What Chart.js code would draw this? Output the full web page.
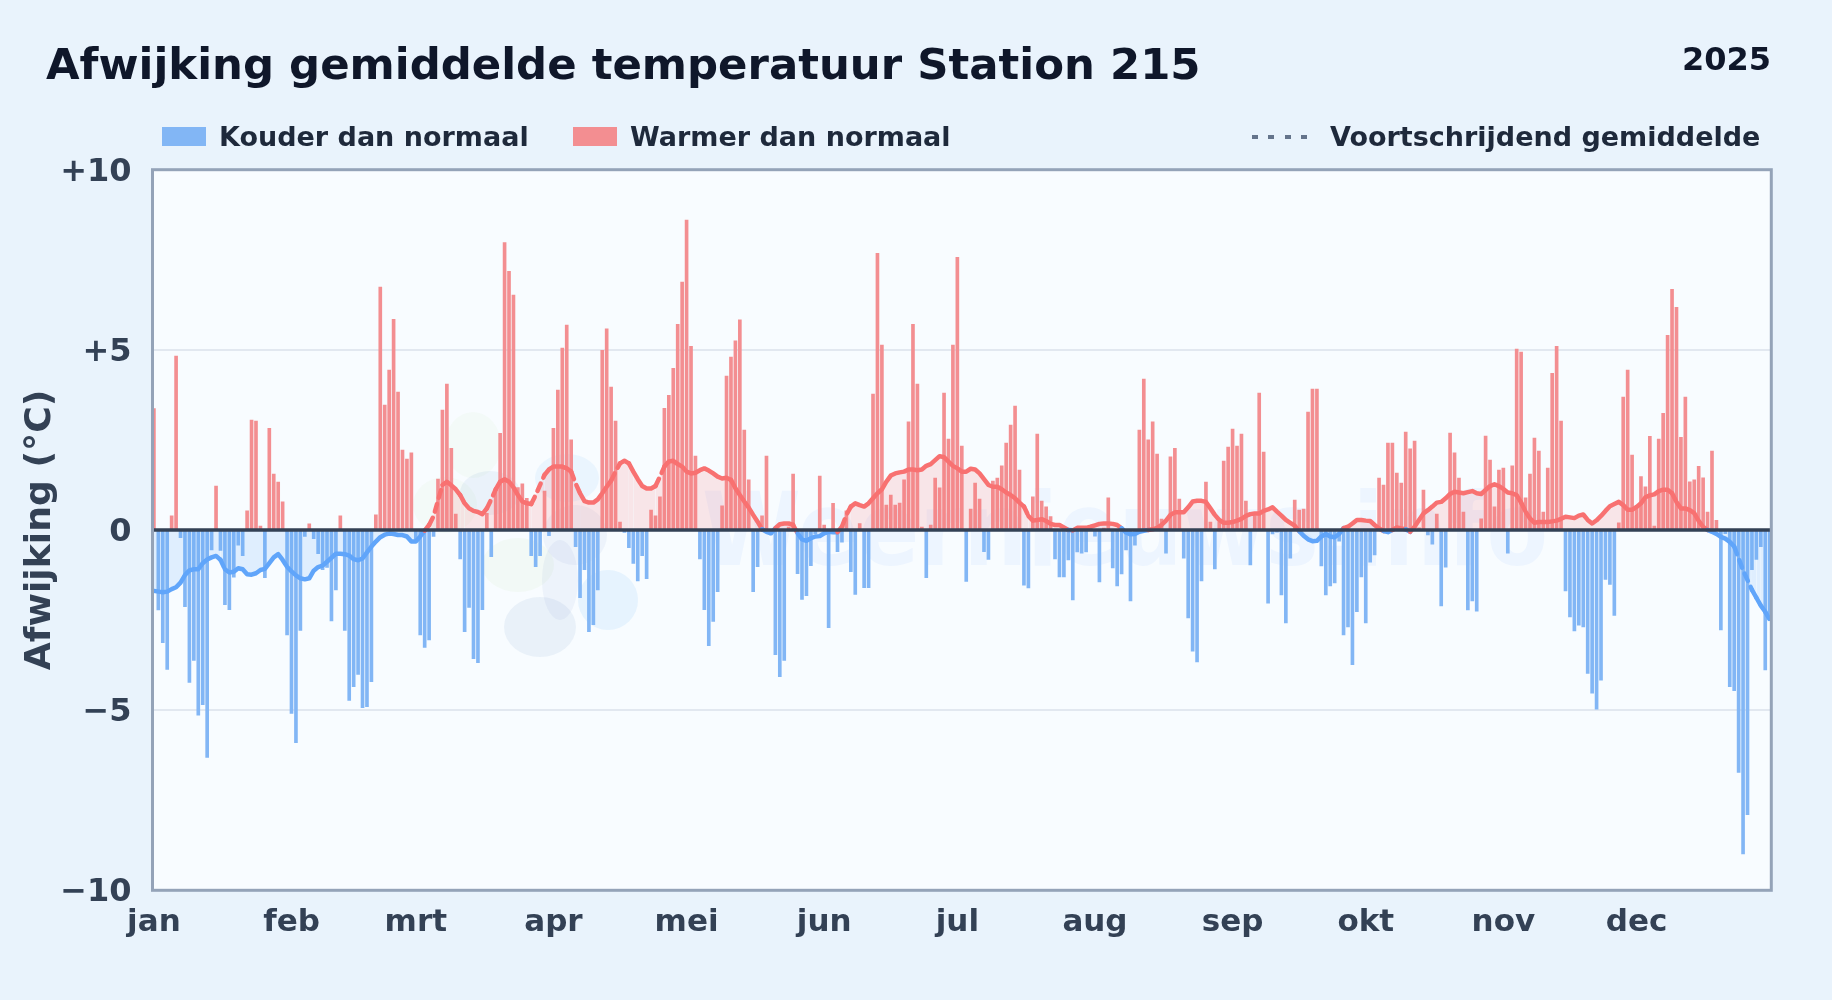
<!DOCTYPE html>
<html lang="nl">
<head>
<meta charset="UTF-8">
<title>Afwijking gemiddelde temperatuur Station 215</title>
<script src="https://cdn.jsdelivr.net/npm/chart.js"></script>
<style>
  html, body { margin: 0; padding: 0; background: #e9f3fc; }
  body { width: 1832px; height: 1000px; position: relative; overflow: hidden; font-family: "DejaVu Sans", sans-serif; font-weight: bold; }
  canvas { position: absolute; left: 0; top: 0; }
  .txt { position: absolute; line-height: 1; white-space: nowrap; }
  #title { left: 46px; top: 43.3px; font-size: 43.4px; color: #0f172a; }
  #year { right: 61px; top: 43px; font-size: 32px; color: #0f172a; }
  .leg { top: 123.3px; font-size: 27px; color: #1e293b; }
  .swatch { position: absolute; top: 127px; width: 44px; height: 19px; }
  #dots { position: absolute; left: 1252px; top: 135px; width: 55px; height: 4px;
          background: repeating-linear-gradient(90deg, #64748b 0 6px, transparent 6px 16.3px); }
</style>
</head>
<body>
<canvas id="chart" width="1832" height="1000"></canvas>
<div id="title" class="txt">Afwijking gemiddelde temperatuur Station 215</div>
<div id="year" class="txt">2025</div>
<div class="swatch" style="left:162px;background:#82b6f5"></div>
<div class="txt leg" style="left:219px">Kouder dan normaal</div>
<div class="swatch" style="left:573px;background:#f38e91"></div>
<div class="txt leg" style="left:630px">Warmer dan normaal</div>
<div id="dots"></div>
<div class="txt leg" style="left:1330px">Voortschrijdend gemiddelde</div>

<script>
const monthLabels = ['jan', 'feb', 'mrt', 'apr', 'mei', 'jun', 'jul', 'aug', 'sep', 'okt', 'nov', 'dec'];
const monthStarts = [0, 31, 59, 90, 120, 151, 181, 212, 243, 273, 304, 334];
const yTicks = [-10, -5, 0, 5, 10];

// daily deviation
const deviation = [
  3.37, -2.22, -3.13, -3.87, .39, 4.83, -.21, -2.13, -4.23, -3.62,
  -5.14, -4.85, -6.31, -.55, 1.22, -.57, -2.07, -2.21, -1.31, -.42,
  -.71, .53, 3.05, 3.02, .11, -1.32, 2.82, 1.55, 1.33, .78,
  -2.91, -5.09, -5.9, -2.79, -.18, .17, -.24, -.66, -1.1, -1.04,
  -2.52, -1.66, .39, -2.79, -4.73, -4.35, -4.01, -4.93, -4.9, -4.21,
  .42, 6.74, 3.47, 4.44, 5.85, 3.83, 2.22, 1.97, 2.14, -.26,
  -2.91, -3.26, -3.05, -.18, 1.41, 3.33, 4.05, 2.27, .44, -.8,
  -2.82, -2.15, -3.57, -3.68, -2.21, .46, -.74, 1.1, 2.68, 7.98,
  7.18, 6.52, 1.18, 1.28, .88, -.71, -1.02, -.71, 1.08, -.16,
  2.82, 3.88, 5.05, 5.69, 2.5, -.46, -1.88, -1.1, -2.82, -2.63,
  -1.66, 4.99, 5.58, 3.97, 3.02, .22, -.07, -.49, -.93, -1.41,
  -.71, -1.35, .55, .39, .92, 3.38, 3.74, 4.49, 5.71, 6.88,
  8.6, 5.1, 2.05, -.8, -2.21, -3.21, -2.54, -1.71, .67, 4.27,
  4.8, 5.25, 5.83, 2.77, 1.39, -1.71, -1.02, .39, 2.05, -.14,
  -3.46, -4.07, -3.62, .08, 1.55, -1.21, -1.93, -1.82, -.99, -.1,
  1.5, .14, -2.71, .74, -.6, -.34, .53, -1.16, -1.79, .18,
  -1.6, -1.6, 3.77, 7.68, 5.13, .69, .97, .69, .75, 1.39,
  3, 5.71, 4.05, .08, -1.32, .14, 1.44, 1.17, 3.8, 2.52,
  5.13, 7.57, 2.33, -1.43, .58, 1.3, .86, -.6, -.82, 1.36,
  1.44, 1.78, 2.41, 2.91, 3.44, 1.66, -1.53, -1.61, .92, 2.66,
  .8, .64, .37, -.8, -1.3, -1.3, -.83, -1.94, -.61, -.64,
  -.61, .1, -.17, -1.44, .05, .89, -1.05, -1.55, -1.22, -.55,
  -1.97, -.42, 2.77, 4.19, 2.5, 3, 2.11, .3, -.64, 2.03,
  2.27, .86, -.78, -2.44, -3.36, -3.66, -1.41, 1.33, .22, -1.08,
  .22, 1.91, 2.3, 2.8, 2.33, 2.66, .8, -.97, .4, 3.8,
  2.16, -2.03, -.11, -.06, -1.8, -2.58, -.78, .83, .55, .58,
  3.27, 3.91, 3.91, -1, -1.8, -1.55, -1.47, -.31, -2.91, -2.69,
  -3.74, -2.27, -1.3, -2.58, -.89, -.69, 1.44, 1.25, 2.41, 2.41,
  1.58, 1.3, 2.72, 2.25, 2.47, .06, 1.11, -.14, -.39, .44,
  -2.11, -1.03, 2.69, 2.14, 1.44, .5, -2.22, -1.97, -2.25, .31,
  2.61, 1.94, .64, 1.66, 1.72, -.64, 1.78, 5.02, 4.94, .89,
  1.55, 2.55, 2.19, .5, 1.72, 4.35, 5.1, 3.02, -1.69, -2.41,
  -2.8, -2.64, -2.69, -3.98, -4.53, -4.97, -4.17, -1.37, -1.51, -2.37,
  .2, 3.69, 4.44, 2.08, .6, 1.48, 1.2, 2.6, .11, 2.52,
  3.24, 5.4, 6.68, 6.18, 2.57, 3.69, 1.34, 1.39, 1.77, 1.45,
  .5, 2.19, .27, -2.77, -.1, -4.35, -4.46, -6.73, -8.99, -7.9,
  -1.1, -.82, -.46, -3.88, -2.5
];

// moving average, also
const movingAvg = [
  -1.69, -1.71, -1.73, -1.71, -1.64, -1.59, -1.46, -1.25, -1.12, -1.09,
  -1.09, -.92, -.82, -.76, -.72, -.83, -1.09, -1.18, -1.16, -1.06,
  -1.09, -1.23, -1.24, -1.2, -1.11, -1.08, -.92, -.76, -.67, -.83,
  -1.02, -1.15, -1.26, -1.34, -1.37, -1.34, -1.13, -1.03, -.99, -.88,
  -.77, -.66, -.66, -.67, -.71, -.81, -.84, -.79, -.62, -.46,
  -.32, -.2, -.13, -.1, -.11, -.14, -.14, -.18, -.32, -.32,
  -.18, -.02, .14, .38, .82, 1.25, 1.34, 1.24, 1.13, .97,
  .74, .6, .53, .5, .44, .6, .85, 1.13, 1.34, 1.41,
  1.34, 1.18, .97, .79, .74, .72, .97, 1.25, 1.53, 1.68,
  1.76, 1.76, 1.76, 1.71, 1.62, 1.29, 1.02, .8, .76, .76,
  .85, 1.02, 1.2, 1.37, 1.62, 1.85, 1.92, 1.85, 1.62, 1.41,
  1.22, 1.15, 1.15, 1.22, 1.48, 1.76, 1.9, 1.92, 1.83, 1.76,
  1.62, 1.57, 1.59, 1.66, 1.71, 1.65, 1.57, 1.48, 1.43, 1.45,
  1.39, 1.16, .97, .79, .62, .42, .23, .02, -.05, -.09,
  .05, .16, .18, .18, .14, -.09, -.26, -.3, -.23, -.18,
  -.17, -.09, -.05, -.06, -.06, .09, .42, .65, .74, .69,
  .65, .74, .88, 1.02, 1.13, 1.34, 1.51, 1.57, 1.6, 1.62,
  1.68, 1.68, 1.66, 1.68, 1.78, 1.83, 1.94, 2.05, 2.02, 1.9,
  1.78, 1.71, 1.62, 1.62, 1.7, 1.68, 1.57, 1.41, 1.25, 1.2,
  1.2, 1.13, 1.04, .97, .88, .76, .65, .39, .26, .28,
  .3, .25, .17, .14, .14, .07, 0, -.01, .06, .06,
  .06, .09, .13, .17, .18, .18, .17, .14, .05, -.07,
  -.12, -.11, -.05, -.02, 0, .02, .06, .14, .26, .42,
  .49, .49, .49, .63, .79, .81, .81, .78, .6, .42,
  .28, .2, .2, .22, .26, .31, .39, .44, .46, .46,
  .53, .57, .63, .51, .4, .28, .2, .12, -.03, -.16,
  -.26, -.31, -.3, -.18, -.11, -.18, -.2, -.11, .05, .09,
  .18, .28, .28, .26, .25, .14, .04, -.03, -.06, 0,
  .07, .04, .02, -.05, .09, .28, .46, .55, .65, .76,
  .78, .88, 1, 1.06, 1.04, 1.02, 1.05, 1.08, 1.02, 1,
  1.11, 1.22, 1.27, 1.22, 1.14, 1.04, 1.02, .97, .76, .51,
  .32, .2, .22, .22, .22, .24, .26, .31, .37, .35,
  .33, .4, .43, .28, .18, .27, .39, .53, .66, .72,
  .78, .69, .56, .56, .64, .74, .91, .96, .99, 1.08,
  1.12, 1.12, 1.02, .78, .6, .6, .55, .47, .25, .09,
  0, -.05, -.11, -.19, -.24, -.33, -.46, -.79, -1.12, -1.39,
  -1.66, -1.88, -2.1, -2.27, -2.49
];

const BLUE = '#60a5fa', RED = '#f87171';
const FONT = '"DejaVu Sans", sans-serif';

// faint logo and site name behind the plot
function drawWatermark(ctx) {
  const blobs = [
    ['rgba(190,225,150,.07)', 473, 445, 28, 33], ['rgba(190,225,150,.07)', 445, 505, 32, 28],
    ['rgba(190,225,150,.09)', 518, 565, 36, 27],
    ['rgba(60,110,180,.07)', 490, 493, 30, 22], ['rgba(60,110,180,.08)', 540, 627, 36, 30],
    ['rgba(60,110,180,.06)', 575, 535, 32, 30], ['rgba(60,110,180,.06)', 560, 580, 18, 40],
    ['rgba(120,190,250,.10)', 567, 478, 32, 24], ['rgba(120,190,250,.14)', 608, 600, 30, 30]
  ];
  blobs.forEach(([c, x, y, rx, ry]) => {
    ctx.fillStyle = c;
    ctx.beginPath();
    ctx.ellipse(x, y, rx, ry, 0, 0, Math.PI * 2);
    ctx.fill();
  });
  ctx.fillStyle = 'rgba(59,130,246,.055)';
  ctx.font = 'bold 102px ' + FONT;
  ctx.textAlign = 'left';
  ctx.textBaseline = 'alphabetic';
  ctx.fillText('Weernieuws.info', 702, 565, 846);
}

const plotFrame = {
  id: 'plotFrame',
  beforeDraw(chart) {
    const { ctx, chartArea: a } = chart;
    ctx.save();
    ctx.fillStyle = '#f8fcff';
    ctx.fillRect(a.left, a.top, a.width, a.height);
    drawWatermark(ctx);
    ctx.restore();
  },
  afterDatasetDraw(chart, args) {
    if (args.index !== 0) return;
    const { ctx, chartArea: a, scales } = chart;
    const y0 = scales.y.getPixelForValue(0);
    ctx.save();
    ctx.strokeStyle = '#334155';
    ctx.lineWidth = 3.5;
    ctx.beginPath();
    ctx.moveTo(a.left, y0);
    ctx.lineTo(a.right, y0);
    ctx.stroke();
    ctx.restore();
  },
  afterDraw(chart) {
    const { ctx, chartArea: a } = chart;
    ctx.save();
    ctx.strokeStyle = '#94a3b8';
    ctx.lineWidth = 3;
    ctx.strokeRect(a.left, a.top, a.width, a.height);
    ctx.restore();
  }
};

new Chart(document.getElementById('chart'), {
  data: {
    datasets: [
      {
        type: 'line',
        label: 'Voortschrijdend gemiddelde',
        order: 1,
        data: movingAvg.map((y, x) => ({ x, y })),
        borderWidth: 4.5,
        pointRadius: 0,
        borderCapStyle: 'round',
        borderJoinStyle: 'round',
        fill: { target: { value: 0 }, above: 'rgba(248,113,113,.16)', below: 'rgba(96,165,250,.16)' },
        segment: {
          borderColor: c => (c.p0.parsed.y + c.p1.parsed.y) / 2 >= 0 ? RED : BLUE,
          borderDash: c => Math.abs(c.p1.parsed.y - c.p0.parsed.y) > .22 ? [8, 6.5] : undefined
        }
      },
      {
        type: 'bar',
        label: 'Afwijking',
        order: 2,
        data: deviation.map((y, x) => ({ x, y })),
        barThickness: 3,
        backgroundColor: c => c.parsed.y >= 0 ? '#f38e91' : '#82b6f5'
      }
    ]
  },
  options: {
    responsive: false,
    animation: false,
    layout: { padding: { left: 0, top: 169.7, right: 60.7, bottom: 0 } },
    plugins: { legend: { display: false }, tooltip: { enabled: false } },
    scales: {
      x: {
        type: 'linear',
        offset: false,
        min: -0.315,
        max: 364.36,
        grid: { display: false, offset: false },
        border: { display: false },
        afterBuildTicks: s => { s.ticks = monthStarts.map(value => ({ value })); },
        afterFit: s => { s.height = 109.7; },
        ticks: {
          autoSkip: false,
          maxRotation: 0,
          padding: 6,
          color: '#334155',
          font: { family: FONT, size: 31, weight: 'bold' },
          callback: (v, i) => monthLabels[i]
        }
      },
      y: {
        min: -10,
        max: 10,
        afterBuildTicks: s => { s.ticks = yTicks.map(value => ({ value })); },
        afterFit: s => { s.width = 152.5; },
        grid: { color: '#e2e8f0', lineWidth: 2, drawTicks: false },
        border: { display: false },
        title: {
          display: true,
          text: 'Afwijking (°C)',
          color: '#334155',
          font: { family: FONT, size: 36.2, weight: 'bold' },
          padding: { top: 19, bottom: 0 }
        },
        ticks: {
          padding: 21,
          labelOffset: 2.5,
          color: '#334155',
          font: { family: FONT, size: 32, weight: 'bold' },
          callback: v => v > 0 ? '+' + v : v < 0 ? '\u2212' + Math.abs(v) : '0'
        }
      }
    }
  },
  plugins: [plotFrame]
});
</script>
</body>
</html>
